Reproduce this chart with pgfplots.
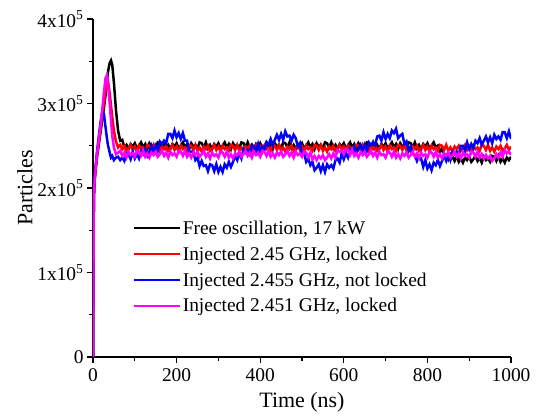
\documentclass[border=0pt]{standalone}
\usepackage{pgfplots}
\usepackage{pgfplotstable}
\pgfplotsset{compat=1.18}
\usepackage{fontspec}
\setmainfont{Liberation Serif}
\definecolor{cK}{RGB}{0,0,0}
\definecolor{cR}{RGB}{255,0,0}
\definecolor{cB}{RGB}{0,0,255}
\definecolor{cM}{RGB}{255,0,255}

\pgfplotstableread{
x k r b m
0 0 0 0 0
2 1.90 1.90 1.90 1.90
4 2.10 2.10 2.12 2.10
7 2.25 2.26 2.30 2.28
10 2.38 2.40 2.45 2.42
14 2.52 2.55 2.62 2.58
18 2.66 2.70 2.78 2.74
22 2.80 2.85 2.90 2.92
26 2.94 3.00 2.88 3.12
30 3.10 3.15 2.72 3.30
33 3.25 3.24 2.60 3.33
36 3.38 3.26 2.50 3.22
40 3.48 3.12 2.42 3.00
43 3.51 2.98 2.36 2.80
46 3.46 2.84 2.38 2.62
50 3.25 2.68 2.33 2.48
55 2.92 2.55 2.36 2.40
60 2.68 2.48 2.37 2.42
65 2.56 2.51 2.33 2.44
70 2.57 2.46 2.36 2.38
75 2.48 2.50 2.32 2.42
80 2.51 2.44 2.41 2.36
85 2.46 2.47 2.40 2.43
90 2.52 2.51 2.34 2.39
95 2.49 2.45 2.43 2.41
100 2.53 2.49 2.35 2.37
105 2.47 2.43 2.40 2.44
110 2.50 2.50 2.35 2.43
115 2.54 2.46 2.44 2.38
120 2.48 2.48 2.40 2.44
125 2.52 2.44 2.46 2.37
130 2.46 2.51 2.38 2.41
135 2.53 2.50 2.43 2.36
140 2.49 2.45 2.50 2.42
145 2.51 2.51 2.43 2.39
150 2.47 2.44 2.50 2.43
155 2.54 2.48 2.44 2.37
160 2.53 2.43 2.55 2.40
165 2.48 2.49 2.52 2.44
170 2.54 2.46 2.56 2.38
175 2.47 2.50 2.53 2.42
180 2.51 2.44 2.64 2.36
185 2.46 2.47 2.64 2.43
190 2.52 2.51 2.59 2.39
195 2.49 2.45 2.68 2.41
200 2.53 2.49 2.60 2.37
205 2.47 2.43 2.65 2.44
210 2.50 2.50 2.58 2.43
215 2.54 2.46 2.65 2.38
220 2.48 2.48 2.56 2.44
225 2.52 2.44 2.56 2.37
230 2.46 2.51 2.43 2.41
235 2.53 2.50 2.43 2.36
240 2.49 2.45 2.43 2.42
245 2.51 2.51 2.33 2.39
250 2.47 2.44 2.36 2.43
255 2.54 2.48 2.26 2.37
260 2.53 2.43 2.32 2.40
265 2.48 2.49 2.26 2.44
270 2.54 2.46 2.27 2.37
275 2.47 2.50 2.20 2.41
280 2.51 2.44 2.28 2.35
285 2.46 2.47 2.27 2.42
290 2.52 2.51 2.20 2.38
295 2.49 2.45 2.28 2.40
300 2.53 2.49 2.19 2.36
305 2.47 2.43 2.25 2.43
310 2.50 2.50 2.19 2.42
315 2.54 2.46 2.28 2.37
320 2.48 2.48 2.24 2.43
325 2.52 2.44 2.31 2.36
330 2.46 2.51 2.25 2.40
335 2.53 2.50 2.31 2.35
340 2.49 2.45 2.38 2.41
345 2.51 2.51 2.33 2.39
350 2.47 2.44 2.41 2.43
355 2.54 2.48 2.35 2.37
360 2.53 2.43 2.46 2.40
365 2.48 2.49 2.42 2.44
370 2.54 2.46 2.45 2.38
375 2.47 2.50 2.40 2.42
380 2.51 2.44 2.50 2.36
385 2.46 2.47 2.50 2.43
390 2.52 2.51 2.43 2.39
395 2.49 2.45 2.52 2.41
400 2.53 2.49 2.43 2.37
405 2.47 2.43 2.49 2.44
410 2.50 2.50 2.45 2.43
415 2.54 2.46 2.54 2.38
420 2.48 2.48 2.51 2.44
425 2.52 2.44 2.58 2.37
430 2.46 2.51 2.51 2.41
435 2.53 2.50 2.57 2.36
440 2.49 2.45 2.63 2.42
445 2.51 2.51 2.57 2.39
450 2.47 2.44 2.64 2.43
455 2.54 2.48 2.57 2.37
460 2.53 2.43 2.67 2.40
465 2.48 2.49 2.61 2.44
470 2.54 2.46 2.62 2.38
475 2.47 2.50 2.56 2.42
480 2.51 2.44 2.63 2.36
485 2.46 2.47 2.59 2.43
490 2.52 2.51 2.49 2.39
495 2.49 2.45 2.53 2.41
500 2.53 2.49 2.40 2.37
505 2.47 2.43 2.41 2.43
510 2.50 2.50 2.31 2.42
515 2.54 2.46 2.35 2.36
520 2.48 2.48 2.27 2.42
525 2.52 2.44 2.31 2.34
530 2.46 2.51 2.21 2.38
535 2.53 2.50 2.24 2.33
540 2.49 2.45 2.28 2.38
545 2.51 2.51 2.20 2.35
550 2.47 2.44 2.27 2.39
555 2.54 2.48 2.19 2.33
560 2.53 2.43 2.28 2.36
565 2.48 2.49 2.24 2.40
570 2.54 2.46 2.27 2.35
575 2.47 2.50 2.23 2.41
580 2.51 2.44 2.33 2.36
585 2.46 2.47 2.35 2.45
590 2.52 2.51 2.30 2.43
595 2.49 2.45 2.41 2.45
600 2.53 2.49 2.34 2.40
605 2.47 2.43 2.41 2.46
610 2.50 2.50 2.36 2.45
615 2.54 2.46 2.46 2.39
620 2.48 2.48 2.43 2.45
625 2.52 2.44 2.49 2.38
630 2.46 2.51 2.41 2.41
635 2.53 2.50 2.46 2.36
640 2.49 2.45 2.51 2.42
645 2.51 2.51 2.44 2.39
650 2.47 2.44 2.51 2.43
655 2.54 2.48 2.44 2.37
660 2.53 2.43 2.54 2.40
665 2.48 2.49 2.51 2.44
670 2.54 2.46 2.54 2.38
675 2.47 2.50 2.51 2.42
680 2.51 2.44 2.61 2.36
685 2.46 2.47 2.62 2.43
690 2.52 2.51 2.56 2.39
695 2.49 2.45 2.66 2.40
700 2.53 2.49 2.58 2.36
705 2.47 2.43 2.64 2.43
710 2.50 2.50 2.59 2.42
715 2.54 2.46 2.68 2.37
720 2.48 2.48 2.65 2.43
725 2.52 2.44 2.70 2.36
730 2.46 2.51 2.59 2.40
735 2.53 2.50 2.62 2.35
740 2.49 2.45 2.64 2.41
745 2.51 2.51 2.52 2.38
750 2.47 2.44 2.55 2.42
755 2.54 2.48 2.44 2.36
760 2.53 2.43 2.49 2.39
765 2.48 2.49 2.40 2.43
770 2.54 2.46 2.39 2.37
775 2.47 2.50 2.32 2.41
780 2.51 2.44 2.38 2.35
785 2.46 2.47 2.35 2.42
790 2.52 2.51 2.25 2.38
795 2.49 2.45 2.33 2.40
800 2.53 2.49 2.23 2.36
805 2.47 2.43 2.28 2.43
810 2.50 2.50 2.21 2.42
815 2.54 2.46 2.30 2.37
820 2.48 2.48 2.27 2.43
825 2.50 2.44 2.33 2.36
830 2.42 2.51 2.26 2.40
835 2.47 2.50 2.32 2.35
840 2.40 2.45 2.38 2.41
845 2.40 2.51 2.32 2.38
850 2.34 2.44 2.39 2.42
855 2.40 2.48 2.33 2.36
860 2.37 2.43 2.43 2.39
865 2.32 2.49 2.40 2.43
870 2.38 2.46 2.43 2.37
875 2.31 2.50 2.39 2.41
880 2.35 2.44 2.50 2.35
885 2.30 2.47 2.50 2.42
890 2.36 2.51 2.44 2.38
895 2.33 2.45 2.54 2.40
900 2.37 2.49 2.46 2.36
905 2.31 2.43 2.52 2.43
910 2.34 2.50 2.47 2.42
915 2.38 2.46 2.56 2.37
920 2.32 2.48 2.53 2.43
925 2.36 2.44 2.59 2.36
930 2.30 2.51 2.51 2.40
935 2.37 2.50 2.56 2.35
940 2.33 2.45 2.61 2.39
945 2.35 2.51 2.54 2.35
950 2.31 2.44 2.60 2.38
955 2.38 2.48 2.53 2.32
960 2.37 2.43 2.63 2.35
965 2.32 2.49 2.58 2.40
970 2.38 2.46 2.61 2.36
975 2.31 2.50 2.57 2.42
980 2.35 2.44 2.66 2.37
985 2.30 2.47 2.66 2.45
990 2.36 2.51 2.59 2.41
995 2.33 2.45 2.67 2.43
1000 2.37 2.49 2.58 2.39
}\data

\begin{document}
\begin{tikzpicture}
\begin{axis}[
  scale only axis, width=418bp, height=338bp,
  xmin=0, xmax=1000, ymin=0, ymax=4,
  axis x line*=bottom, axis y line*=left,
  axis line style={line width=1.5pt, -},
  xtick={0,200,...,1000}, minor xtick={100,300,...,900},
  ytick={0,1,2,3,4}, minor ytick={0.5,1.5,2.5,3.5},
  xticklabel={\rmfamily\pgfmathprintnumber[assume math mode=true]{\tick}},
  yticklabels={\rmfamily 0,\rmfamily 1x10\textsuperscript{5},\rmfamily 2x10\textsuperscript{5},\rmfamily 3x10\textsuperscript{5},\rmfamily 4x10\textsuperscript{5}},
  tick align=outside,
  major tick length=6bp, minor tick length=3.5bp,
  major tick style={black, line width=1.3pt},
  minor tick style={black, line width=1.3pt},
  tick label style={font=\rmfamily\fontsize{19.5}{22}\selectfont},
  xticklabel style={yshift=-2bp},
  /pgf/number format/1000 sep={},
  label style={font=\rmfamily\fontsize{22}{26}\selectfont},
  xlabel={Time (ns)}, ylabel={Particles},
  xlabel style={at={(axis description cs:0.5,-0.133)}, anchor=center},
  ylabel style={at={(axis description cs:-0.163,0.5)}, anchor=center},
  legend cell align=left,
  legend style={draw=none, fill=none, at={(0.096,0.41)}, anchor=north west,
    font=\rmfamily\fontsize{19.5}{23}\selectfont, row sep=7bp, inner sep=0pt},
  legend image code/.code={\draw[mark repeat=2,mark phase=2,#1,line width=1.5pt] plot coordinates {(0bp,0bp) (23bp,0bp) (46bp,0bp)};},
]
\addplot[cK, line width=2.5pt, mark=none] table[x=x, y=k] {\data};
\addlegendentry{Free oscillation, 17 kW}
\addplot[cR, line width=2.5pt, mark=none] table[x=x, y=r] {\data};
\addlegendentry{Injected 2.45 GHz, locked}
\addplot[cB, line width=2.5pt, mark=none] table[x=x, y=b] {\data};
\addlegendentry{Injected 2.455 GHz, not locked}
\addplot[cM, line width=2.5pt, mark=none] table[x=x, y=m] {\data};
\addlegendentry{Injected 2.451 GHz, locked}
\end{axis}
\pgfresetboundingbox
\path (current axis.south west) ++(-93bp,-60bp) rectangle ++(539bp,417bp);
\end{tikzpicture}
\end{document}
